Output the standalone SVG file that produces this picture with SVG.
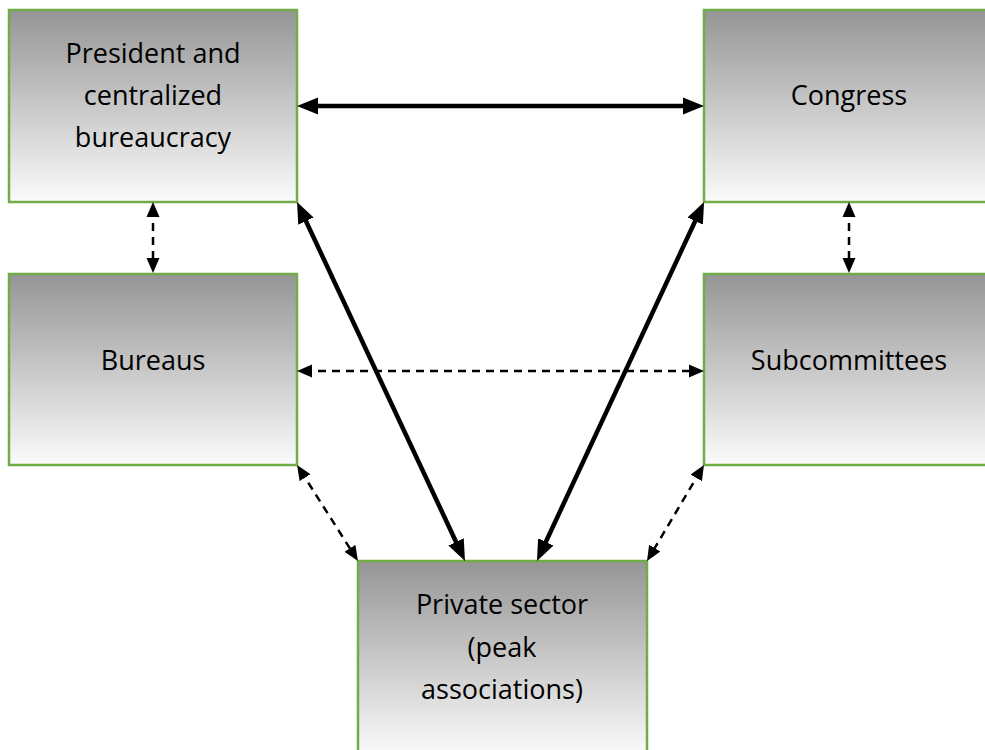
<svg xmlns="http://www.w3.org/2000/svg" width="985" height="750" viewBox="0 0 985 750">
<defs>
<linearGradient id="g" x1="0" y1="0" x2="0" y2="1">
<stop offset="0" stop-color="#959595"/>
<stop offset="1" stop-color="#fbfbfb"/>
</linearGradient>
<marker id="hs" markerUnits="userSpaceOnUse" markerWidth="22" markerHeight="18" refX="10" refY="8.5" orient="auto-start-reverse" viewBox="0 0 22 17">
<path d="M0,0 L21,8.5 L0,17 z" fill="#000"/>
</marker>
<marker id="hd" markerUnits="userSpaceOnUse" markerWidth="16" markerHeight="14" refX="8" refY="6.5" orient="auto-start-reverse" viewBox="0 0 16 13">
<path d="M0,0 L15,6.5 L0,13 z" fill="#000"/>
</marker>
</defs>
<style>
.box{fill:url(#g);stroke:#70ad47;stroke-width:2.5}
.t{font-family:"Open Sans","Noto Sans",sans-serif;font-size:27px;fill:#000;text-anchor:middle}
.s{stroke:#000;stroke-width:4.5;fill:none;marker-start:url(#hs);marker-end:url(#hs)}
.d{stroke:#000;stroke-width:2.5;fill:none;stroke-dasharray:8 6;marker-start:url(#hd);marker-end:url(#hd)}
</style>
<rect width="985" height="750" fill="#fff"/>
<g id="president">
<rect class="box" x="9" y="10" width="288" height="192"/>
<text class="t" x="153" y="63">President and</text>
<text class="t" x="153" y="105">centralized</text>
<text class="t" x="153" y="147">bureaucracy</text>
</g>
<g id="congress">
<rect class="box" x="704" y="10" width="300" height="192"/>
<text class="t" x="849" y="105">Congress</text>
</g>
<g id="bureaus">
<rect class="box" x="9" y="274" width="288" height="191"/>
<text class="t" x="153" y="370">Bureaus</text>
</g>
<g id="subcommittees">
<rect class="box" x="704" y="274" width="300" height="191"/>
<text class="t" x="849" y="370">Subcommittees</text>
</g>
<g id="private">
<rect class="box" x="358" y="561" width="289" height="194"/>
<text class="t" x="502" y="614">Private sector</text>
<text class="t" x="502" y="657">(peak</text>
<text class="t" x="502" y="699">associations)</text>
</g>
<g id="connectors">
<line class="s" x1="308" y1="106" x2="693" y2="106"/>
<line class="s" x1="301.7" y1="212.0" x2="460.3" y2="551.0"/>
<line class="s" x1="699.4" y1="212.0" x2="541.6" y2="551.0"/>
<line class="d" x1="153" y1="209" x2="153" y2="266"/>
<line class="d" x1="849" y1="209" x2="849" y2="266"/>
<line class="d" x1="304" y1="371" x2="697" y2="371"/>
<line class="d" x1="300.8" y1="470.9" x2="354.2" y2="555.1"/>
<line class="d" x1="700.4" y1="471.0" x2="650.6" y2="555.0"/>
</g>
</svg>
